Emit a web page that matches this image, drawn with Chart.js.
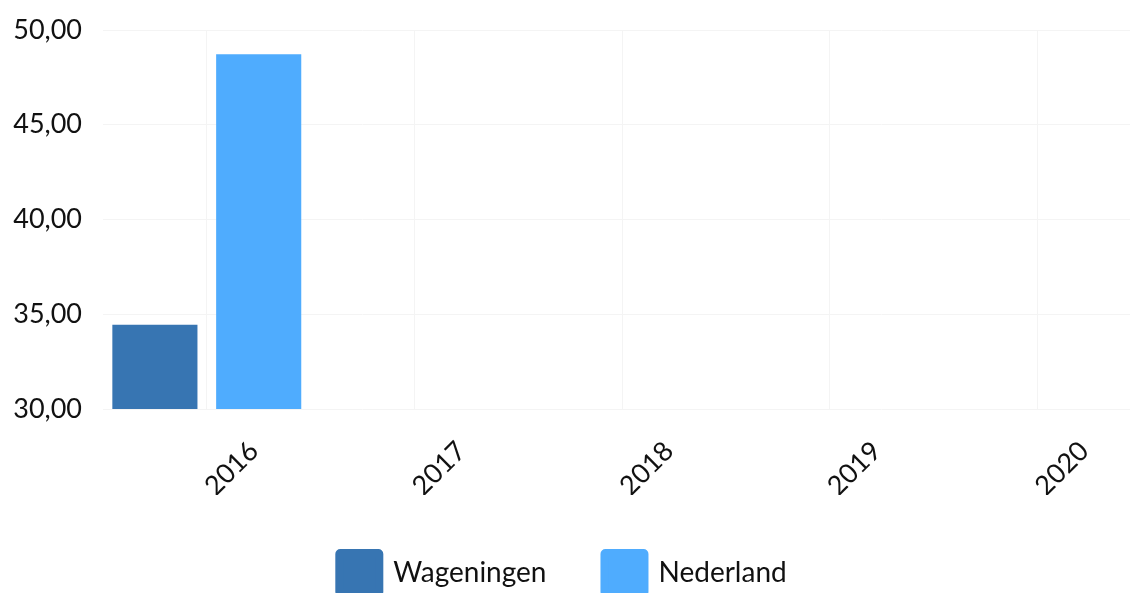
<!DOCTYPE html>
<html><head><meta charset="utf-8">
<script src="https://cdn.jsdelivr.net/npm/chart.js@4/dist/chart.umd.min.js"></script>
<style>
html,body{margin:0;padding:0;overflow:hidden;background:#fff}
#wrap{position:absolute;left:-15px;top:0;width:1156px;height:603px}
</style></head>
<body><div id="wrap"><canvas id="c"></canvas></div>
<script>
const categories = ['2016', '2017', '2018', '2019', '2020'];
const wageningenValues = [34.45, null, null, null, null];
const nederlandValues = [48.72, null, null, null, null];
const seriesNames = ['Wageningen', 'Nederland'];
const seriesColors = ['#3775B2', '#4FACFE'];
const yMin = 30, yMax = 50, yStep = 5;

Chart.defaults.font.family = 'Lato, sans-serif';
Chart.defaults.color = '#111';

new Chart(document.getElementById('c'), {
  type: 'bar',
  data: {
    labels: categories,
    datasets: [
      { label: seriesNames[0], data: wageningenValues, backgroundColor: seriesColors[0], borderWidth: 0 },
      { label: seriesNames[1], data: nederlandValues, backgroundColor: seriesColors[1], borderWidth: 0 }
    ]
  },
  options: {
    responsive: true,
    maintainAspectRatio: false,
    animation: false,
    layout: { autoPadding: false, padding: { top: 30, left: 0, right: 0, bottom: 0 } },
    datasets: { bar: { categoryPercentage: 1.0, barPercentage: 0.82 } },
    plugins: {
      tooltip: { enabled: false },
      legend: {
        position: 'bottom',
        labels: {
          boxWidth: 40, boxHeight: 40, useBorderRadius: true, borderRadius: 1, font: { size: 28 }, padding: 58,
          generateLabels: chart => Chart.defaults.plugins.legend.labels.generateLabels(chart).map(item => {
            item.lineWidth = 8;
            item.strokeStyle = item.fillStyle;
            return item;
          })
        }
      }
    },
    scales: {
      x: {
        afterFit: s => { s.height = 86; },
        grid: { offset: false, color: '#f4f4f4', drawTicks: false },
        border: { display: false },
        ticks: { font: { size: 27 }, minRotation: 45, maxRotation: 45, padding: 26, labelOffset: 47 }
      },
      y: {
        min: yMin, max: yMax,
        afterFit: s => { s.width = 118; s.paddingTop = 0; s.paddingBottom = 0; },
        grid: { color: '#f4f4f4', drawTicks: false },
        border: { display: false },
        ticks: { stepSize: yStep, font: { size: 27 }, padding: 21,
          callback: v => v.toFixed(2).replace('.', ',') }
      }
    }
  }
});
</script>
</body></html>
